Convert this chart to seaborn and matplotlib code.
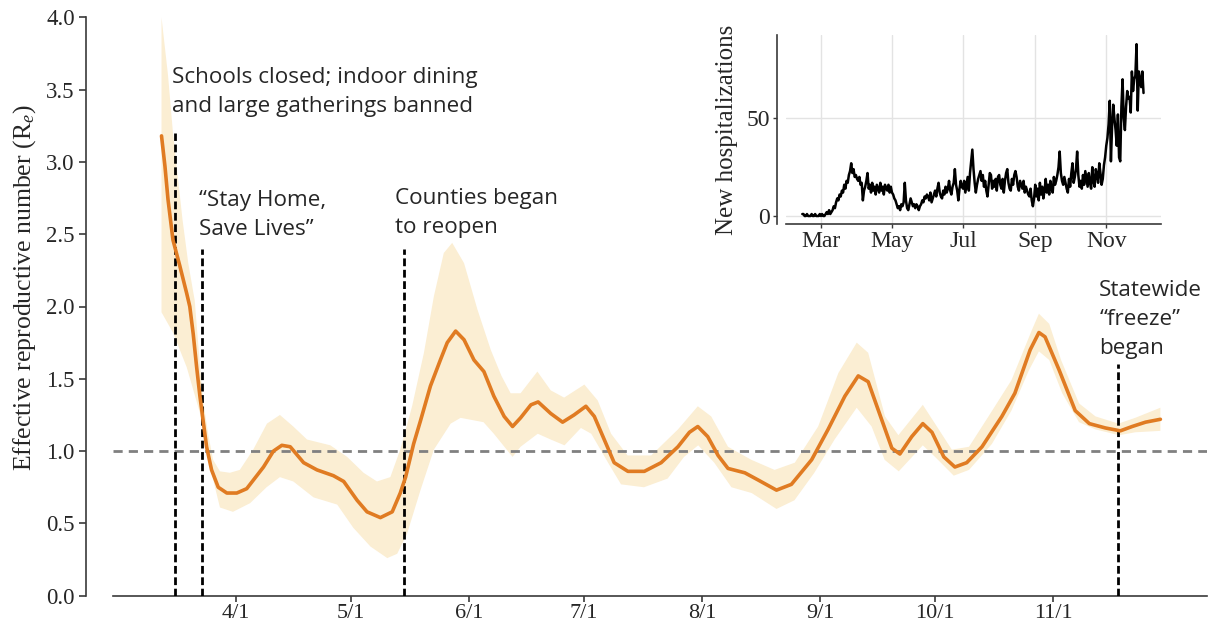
import numpy as np
import pandas as pd
import matplotlib
matplotlib.use("Agg")
import matplotlib.pyplot as plt
import matplotlib.dates as mdates
import seaborn as sns

# ---------------- data: effective reproductive number (days relative to 4/1) ----------------
re_day = [-19.5, -18.6, -17.8, -16.5, -14.7, -12.9, -12.1, -11.2, -10.3, -9.45, -8.6, -7.7, -6.4,
          -4.65, -2.4, 0.2, 2.8, 7.2, 9.8, 12.0, 14.2, 17.7, 21.2, 25.5, 28.2, 31.7, 34.3, 37.8,
          40.9, 43.0, 44.4, 46.5, 48.3, 50.9, 53.5, 55.3, 57.5, 59.7, 62.3, 64.9, 67.5, 70.2, 72.4,
          74.5, 77.2, 79.1, 82.4, 85.5, 88.5, 91.6, 93.8, 96.4, 99.0, 102.6, 106.9, 111.3, 115.7,
          118.7, 120.9, 123.5, 126.2, 128.8, 133.2, 136.7, 141.5, 145.4, 150.7, 155.0, 159.4,
          162.9, 165.5, 169.0, 171.7, 173.8, 176.9, 179.8, 182.2, 185.3, 188.2, 191.3, 195.3,
          200.5, 203.9, 207.9, 210.2, 211.8, 215.5, 219.7, 223.4, 227.6, 231.5, 234.6, 238.1, 242.0]
re_val = [3.18, 2.97, 2.74, 2.46, 2.28, 2.09, 2.00, 1.81, 1.58, 1.38, 1.21, 1.03, 0.87,
          0.75, 0.71, 0.71, 0.74, 0.89, 1.00, 1.04, 1.03, 0.92, 0.87, 0.83, 0.79, 0.66, 0.58, 0.54,
          0.58, 0.71, 0.82, 1.05, 1.21, 1.45, 1.63, 1.75, 1.83, 1.77, 1.63, 1.55, 1.38, 1.24, 1.17,
          1.23, 1.32, 1.34, 1.26, 1.20, 1.25, 1.31, 1.24, 1.08, 0.92, 0.86, 0.86, 0.92, 1.03,
          1.13, 1.17, 1.10, 0.97, 0.88, 0.85, 0.80, 0.73, 0.77, 0.94, 1.15, 1.38,
          1.52, 1.48, 1.22, 1.02, 0.98, 1.10, 1.19, 1.13, 0.96, 0.89, 0.92, 1.03,
          1.24, 1.40, 1.70, 1.82, 1.79, 1.56, 1.28, 1.19, 1.16, 1.14, 1.17, 1.20, 1.22]

band_hi_day = [-19.5, -17.8, -16.5, -14.0, -12.5, -10.8, -9.4, -8.6, -7.3, -6.0, -4.2, -1.6, 1.0,
               4.5, 8.1, 11.5, 15.0, 18.6, 24.7, 29.1, 33.4, 36.9, 40.4, 43.0, 46.1, 49.2, 51.8,
               54.4, 56.6, 59.7, 63.2, 66.7, 69.5, 71.9, 74.5, 78.9, 82.4, 85.9, 91.2, 94.7, 98.2,
               102.5, 108.7, 115.7, 120.9, 124.4, 128.8, 134.9, 141.0, 146.3, 152.4, 157.7, 162.5,
               165.5, 169.9, 173.4, 179.8, 183.0, 187.4, 191.9, 197.0, 203.0, 208.4, 210.2, 212.9,
               216.0, 220.7, 225.0, 231.0, 235.4, 242.0]
band_hi_val = [4.0, 3.6, 3.2, 2.6, 2.3, 2.04, 1.58, 1.35, 1.12, 0.94, 0.86, 0.85, 0.87,
               1.01, 1.19, 1.25, 1.17, 1.08, 1.04, 0.96, 0.85, 0.79, 0.82, 1.01, 1.31, 1.68, 2.07,
               2.37, 2.44, 2.30, 1.98, 1.70, 1.52, 1.40, 1.40, 1.55, 1.42, 1.37, 1.46, 1.35, 1.12,
               0.97, 0.97, 1.15, 1.31, 1.24, 1.03, 0.94, 0.87, 0.92, 1.17, 1.54, 1.75,
               1.68, 1.24, 1.11, 1.32, 1.19, 1.01, 1.03, 1.24, 1.49, 1.84, 1.95, 1.88,
               1.63, 1.33, 1.24, 1.19, 1.23, 1.30]
band_lo_day = [-19.5, -16.5, -12.9, -9.4, -6.8, -4.2, -0.8, 3.7, 8.0, 11.5, 15.0, 20.3, 26.5,
               30.7, 35.2, 39.6, 42.2, 44.8, 48.3, 51.8, 56.2, 58.8, 64.8, 67.5, 72.4, 74.5, 79.0,
               82.4, 86.0, 90.3, 93.0, 97.4, 100.8, 106.8, 113.0, 117.3, 121.0, 125.2, 129.7,
               135.0, 141.5, 146.2, 151.4, 156.7, 162.5, 166.4, 169.8, 173.5, 179.8, 183.0,
               187.9, 191.9, 197.9, 203.0, 207.6, 210.2, 212.9, 216.3, 220.7, 225.0, 231.2,
               235.4, 242.0]
band_lo_val = [1.96, 1.82, 1.58, 1.26, 0.89, 0.61, 0.58, 0.64, 0.75, 0.82, 0.79, 0.68, 0.63,
               0.47, 0.34, 0.26, 0.29, 0.43, 0.73, 1.01, 1.19, 1.23, 1.20, 1.12, 0.96, 1.03, 1.12,
               1.08, 1.04, 1.16, 1.12, 0.92, 0.77, 0.75, 0.81, 0.96, 1.04, 0.92, 0.75,
               0.71, 0.60, 0.66, 0.85, 1.08, 1.30, 1.17, 0.94, 0.86, 1.04, 0.96,
               0.83, 0.87, 1.05, 1.28, 1.56, 1.69, 1.63, 1.40, 1.20, 1.15, 1.11,
               1.13, 1.14]

tick_days = [0, 30, 61, 91, 122, 153, 183, 214]
tick_labels = ["4/1", "5/1", "6/1", "7/1", "8/1", "9/1", "10/1", "11/1"]

event_days = [-16, -9, 44, 231]
event_tops = [3.2, 2.4, 2.4, 1.6]
event_texts = ["Schools closed; indoor dining\nand large gatherings banned",
               "\u201cStay Home,\nSave Lives\u201d",
               "Counties began\nto reopen",
               "Statewide\n\u201cfreeze\u201d\nbegan"]

# ---------------- data: inset, daily new hospitalizations from 2020-02-14 ----------------
hosp_feb = [1, 1, 0, 0, 1, 0, 0, 0, 1, 0, 0, 1, 0, 0, 0, 1]
hosp_mar = [0, 1, 0, 0, 1, 2, 1, 3, 1, 2, 3, 5, 4, 7, 9, 8, 11, 10, 13, 12,
            16, 14, 18, 17, 21, 23, 27, 22, 24, 20, 21]
hosp_apr = [19, 18, 20, 16, 17, 8, 13, 15, 18, 22, 14, 16, 12, 17, 13, 15, 11, 16, 14, 12,
            17, 13, 15, 11, 16, 14, 13, 16, 12, 15]
hosp_may = [12, 11, 9, 8, 6, 4, 5, 3, 6, 5, 7, 17, 8, 4, 3, 6, 9, 7, 5, 6,
            4, 6, 5, 3, 5, 6, 8, 7, 10, 9, 11]
hosp_jun = [10, 8, 12, 7, 9, 11, 13, 10, 14, 17, 12, 10, 9, 13, 11, 15, 12, 14, 18, 13,
            11, 15, 17, 24, 16, 13, 8, 14, 18, 15]
hosp_jul = [14, 18, 12, 16, 20, 13, 22, 28, 34, 24, 17, 12, 16, 19, 21, 23, 18, 21, 15, 18,
            13, 10, 16, 22, 21, 14, 18, 15, 19, 13, 20]
hosp_aug = [21, 16, 14, 19, 12, 18, 22, 24, 17, 14, 13, 19, 16, 21, 23, 20, 15, 13, 18, 16,
            14, 18, 12, 15, 13, 11, 10, 14, 8, 5, 9]
hosp_sep = [16, 10, 14, 8, 17, 11, 15, 9, 13, 19, 12, 16, 11, 18, 14, 12, 20, 16, 18, 21,
            25, 33, 22, 18, 16, 20, 17, 14, 12, 19]
hosp_oct = [15, 22, 27, 17, 20, 24, 33, 21, 15, 18, 14, 21, 16, 23, 19, 15, 22, 17, 14, 25,
            18, 15, 24, 21, 17, 27, 22, 16, 19, 26, 30]
hosp_nov = [36, 40, 47, 59, 28, 46, 57, 50, 44, 36, 52, 30, 28, 56, 70, 50, 44, 56, 64, 60,
            61, 53, 74, 64, 70, 72, 88, 54, 74, 70]
hosp_dec = [66, 74, 63]
hosp_start = "2020-02-14"
inset_month_ticks = [3, 5, 7, 9, 11]

# ---------------- styling ----------------
sns.set_style("ticks")
plt.rcParams['font.family'] = ['Liberation Serif', 'DejaVu Serif']
plt.rcParams['mathtext.fontset'] = 'custom'
plt.rcParams['mathtext.rm'] = 'Liberation Serif'
plt.rcParams['mathtext.it'] = 'Liberation Serif:italic'
SANS = ['Open Sans', 'DejaVu Sans']
ORANGE = '#E07B22'
BAND = '#FBEED3'
SPINE = '#3a3a3a'
TXT = '#262626'

fig = plt.figure(figsize=(12.13, 6.27), dpi=100)
ax = fig.add_axes([113 / 1213, 1 - 595.7 / 627, (1207 - 113) / 1213, (595.7 - 17.3) / 627])

# uncertainty band
poly_x = np.concatenate([band_hi_day, band_lo_day[::-1]])
poly_y = np.concatenate([band_hi_val, band_lo_val[::-1]])
ax.fill(poly_x, poly_y, color=BAND, lw=0, zorder=1)

# reference line at 1
ax.axhline(1.0, color='#808080', lw=2, dashes=(3.3, 2.2), zorder=2)

# event lines
for d, top in zip(event_days, event_tops):
    ax.plot([d, d], [0, top], color='black', lw=2.0, dashes=(2.8, 1.3), zorder=3)

# Re curve
sns.lineplot(x=re_day, y=re_val, sort=False, color=ORANGE, lw=2.6, ax=ax, zorder=4)

# annotations
text_pos = [(-16.8, 3.48), (-9.7, 2.63), (41.7, 2.65), (226.0, 1.91)]
for (tx, ty), s in zip(text_pos, event_texts):
    ax.text(tx, ty, s, family=SANS, fontsize=16.2, color=TXT, ha='left', va='center',
            linespacing=1.5, zorder=5)

ax.set_xlim(-32.2, 254.2)
ax.set_ylim(0, 4.0)
ax.set_xticks(tick_days)
ax.set_xticklabels(tick_labels)
ax.set_yticks(np.arange(0, 4.01, 0.5))
ax.set_yticklabels([f"{v:.1f}" for v in np.arange(0, 4.01, 0.5)])
ax.tick_params(axis='both', labelsize=16.5, colors=SPINE, labelcolor=TXT, length=5, width=1.2, pad=3)
ax.tick_params(axis='x', labelsize=16, length=4, pad=2)
ax.set_ylabel("Effective reproductive number (R$_e$)", fontsize=18.5, color=TXT)
ax.yaxis.set_label_coords(-0.069, 0.532)
sns.despine(ax=ax, offset={'left': 19.5})
for sp in ['left', 'bottom']:
    ax.spines[sp].set_color(SPINE)
    ax.spines[sp].set_linewidth(1.2)

# ---------------- inset ----------------
hosp_vals = (hosp_feb + hosp_mar + hosp_apr + hosp_may + hosp_jun + hosp_jul + hosp_aug +
             hosp_sep + hosp_oct + hosp_nov + hosp_dec)
hosp = pd.DataFrame({'date': pd.date_range(hosp_start, periods=len(hosp_vals), freq='D'),
                     'n': hosp_vals})
ax2 = fig.add_axes([786 / 1213, 1 - 224 / 627, (1161 - 786) / 1213, (224 - 35) / 627])
sns.lineplot(data=hosp, x='date', y='n', color='black', lw=1.8, ax=ax2)
ax2.set_xlim(pd.Timestamp("2020-01-31"), pd.Timestamp("2020-12-18"))
ax2.set_ylim(-4.1, 92.7)
ax2.set_yticks([0, 50])
ax2.xaxis.set_major_locator(mdates.MonthLocator(bymonth=inset_month_ticks))
ax2.xaxis.set_major_formatter(mdates.DateFormatter('%b'))
ax2.grid(True, color='#e3e3e3', lw=1)
ax2.set_axisbelow(True)
ax2.set_xlabel("")
ax2.set_ylabel("New hospitalizations", fontsize=18, color=TXT, labelpad=6)
ax2.tick_params(axis='both', labelsize=17, colors=SPINE, labelcolor=TXT, length=3, width=1.0, pad=2)
sns.despine(ax=ax2, offset={'left': 6.7})
for sp in ['left', 'bottom']:
    ax2.spines[sp].set_color(SPINE)
    ax2.spines[sp].set_linewidth(1.2)

fig.savefig("out.png", dpi=100)
